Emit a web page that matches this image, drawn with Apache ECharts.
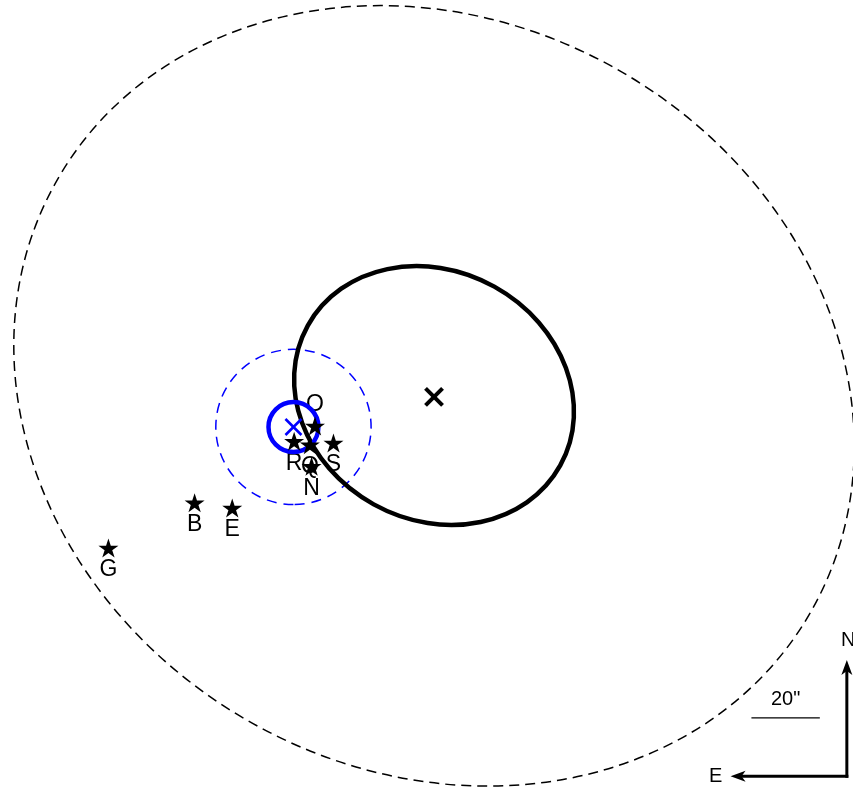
<!DOCTYPE html>
<html>
<head>
<meta charset="utf-8">
<title>Field map</title>
<script src="https://cdn.jsdelivr.net/npm/echarts@6/dist/echarts.min.js"></script>
<style>
  html, body { margin: 0; padding: 0; background: #ffffff; }
  #chart { width: 853px; height: 790px; }
</style>
</head>
<body>
<div id="chart"></div>
<script>
// Positions are offsets in arcseconds from the centroid marked with the black cross:
// east is +x (drawn to the left), north is +y.

// Field stars
const starNames = ['B', 'E', 'G', 'R', 'Q', 'O', 'S', 'N'];
const starEast  = [70.0, 59.0, 95.2, 40.9, 36.3, 34.8, 29.4, 35.8];
const starNorth = [-31.0, -32.5, -44.2, -13.0, -14.0, -8.5, -13.5, -20.3];

// Regions: centre, semi-major / semi-minor axis (arcsec), position angle (deg, N through E)
const regionEast  = [0.0, 0.0, 41.1, 41.1];
const regionNorth = [0.3, 0.4, -8.8, -8.8];
const regionMajor = [127.0, 42.2, 22.7, 7.3];
const regionMinor = [109.5, 36.4, 22.7, 7.3];
const regionPA    = [60, 61, 0, 0];

// Centroid markers
const crossEast  = [0.0, 41.1];
const crossNorth = [0.0, -8.8];

// Scale bar and orientation arrows
const scaleBarLength = 20;               // arcsec
const scaleBarStart  = [-92.8, -93.9];
const compassOrigin  = [-120.7, -111.0];
const compassLength  = 34;               // arcsec
const compassNames   = ['N', 'E'];

const FONT = "'Liberation Sans', Arial, Helvetica, sans-serif";

// Stroke styles for the four regions, in the same order as the arrays above
const regionStyles = [
  { stroke: '#000000', lineWidth: 1.5, lineDash: [10, 6], z: 2 },
  { stroke: '#000000', lineWidth: 4.5, lineDash: null,    z: 3 },
  { stroke: '#0000ff', lineWidth: 1.5, lineDash: [10, 7], z: 2 },
  { stroke: '#0000ff', lineWidth: 4.5, lineDash: null,    z: 3 }
];
const crossStyles = [
  { stroke: '#000000', lineWidth: 4,   half: 8.5 },
  { stroke: '#0000ff', lineWidth: 2.6, half: 8 }
];

function renderRegion(style) {
  return function (params, api) {
    const e = api.value(0), n = api.value(1);
    const a = api.value(2), b = api.value(3);
    const pa = api.value(4) * Math.PI / 180;
    const c = api.coord([e, n]);
    const pMaj = api.coord([e + a * Math.sin(pa), n + a * Math.cos(pa)]);
    const pMin = api.coord([e + b * Math.cos(pa), n - b * Math.sin(pa)]);
    const rx = Math.hypot(pMaj[0] - c[0], pMaj[1] - c[1]);
    const ry = Math.hypot(pMin[0] - c[0], pMin[1] - c[1]);
    const rot = -Math.atan2(pMaj[1] - c[1], pMaj[0] - c[0]);
    return {
      type: 'ellipse',
      x: c[0], y: c[1], rotation: rot,
      shape: { cx: 0, cy: 0, rx: rx, ry: ry },
      style: { fill: 'none', stroke: style.stroke, lineWidth: style.lineWidth, lineDash: style.lineDash }
    };
  };
}

function renderCross(params, api) {
  const st = crossStyles[params.dataIndex];
  const p = api.coord([api.value(0), api.value(1)]);
  const h = st.half;
  const ls = { stroke: st.stroke, lineWidth: st.lineWidth };
  return {
    type: 'group',
    children: [
      { type: 'line', shape: { x1: p[0] - h, y1: p[1] - h, x2: p[0] + h, y2: p[1] + h }, style: ls },
      { type: 'line', shape: { x1: p[0] - h, y1: p[1] + h, x2: p[0] + h, y2: p[1] - h }, style: ls }
    ]
  };
}

function renderStarLabel(params, api) {
  const name = starNames[params.dataIndex];
  const p = api.coord([api.value(0), api.value(1)]);
  const dy = name === 'O' ? -21 : 22;
  return {
    type: 'text',
    x: p[0], y: p[1] + dy,
    style: { text: name, fontSize: 23, fontFamily: FONT, fill: '#000', align: 'center', verticalAlign: 'middle' }
  };
}

function renderCompass(params, api) {
  const p0 = api.coord([api.value(0), api.value(1)]);
  const p1 = api.coord([api.value(2), api.value(3)]);
  const len = Math.hypot(p1[0] - p0[0], p1[1] - p0[1]);
  const ux = (p1[0] - p0[0]) / len, uy = (p1[1] - p0[1]) / len;
  const vx = -uy, vy = ux;
  const hl = 15, hw = 5.5, notch = 4;
  const back = [p1[0] - ux * hl, p1[1] - uy * hl];
  const inner = [p1[0] - ux * (hl - notch), p1[1] - uy * (hl - notch)];
  const vertical = Math.abs(uy) > 0.5;
  const gap = vertical ? 20 : 15;
  return {
    type: 'group',
    children: [
      { type: 'line', shape: { x1: p0[0], y1: p0[1], x2: inner[0], y2: inner[1] },
        style: { stroke: '#000', lineWidth: 3, lineCap: 'square' } },
      { type: 'polygon',
        shape: { points: [p1, [back[0] + vx * hw, back[1] + vy * hw], inner, [back[0] - vx * hw, back[1] - vy * hw]] },
        style: { fill: '#000' } },
      { type: 'text', x: p1[0] + ux * gap + (vertical ? 1.5 : 0), y: p1[1] + uy * gap,
        style: { text: compassNames[params.dataIndex], fontSize: 20, fontFamily: FONT, fill: '#000',
                 align: 'center', verticalAlign: 'middle' } }
    ]
  };
}

function renderScaleBar(params, api) {
  const p0 = api.coord([api.value(0), api.value(1)]);
  const p1 = api.coord([api.value(2), api.value(3)]);
  return {
    type: 'group',
    children: [
      { type: 'line', shape: { x1: p0[0], y1: p0[1], x2: p1[0], y2: p1[1] },
        style: { stroke: '#000', lineWidth: 1.3 } },
      { type: 'text', x: (p0[0] + p1[0]) / 2, y: p0[1] - 18,
        style: { text: scaleBarLength + '"', fontSize: 20, fontFamily: FONT, fill: '#000',
                 align: 'center', verticalAlign: 'middle' } }
    ]
  };
}

const starPath = 'path://M50,0L61.23,34.55L97.55,34.55L68.17,55.9L79.39,90.45L50,69.1L20.61,90.45L31.83,55.9L2.45,34.55L38.77,34.55Z';
const starData = starEast.map((e, i) => [e, starNorth[i]]);

const series = [];

// star labels sit underneath everything else
series.push({
  type: 'custom', name: 'star labels', z: 1,
  renderItem: renderStarLabel, data: starData, silent: true
});

regionStyles.forEach((st, i) => {
  series.push({
    type: 'custom', name: 'region ' + i, z: st.z,
    renderItem: renderRegion(st),
    data: [[regionEast[i], regionNorth[i], regionMajor[i], regionMinor[i], regionPA[i]]],
    silent: true
  });
});

series.push({
  type: 'custom', name: 'centroids', z: 4,
  renderItem: renderCross,
  data: crossEast.map((e, i) => [e, crossNorth[i]]),
  silent: true
});

series.push({
  type: 'scatter', name: 'stars', z: 5,
  symbol: starPath, symbolSize: [20, 19],
  itemStyle: { color: '#000000', opacity: 1 },
  data: starData, silent: true
});

series.push({
  type: 'custom', name: 'compass', z: 6,
  renderItem: renderCompass,
  data: [
    [compassOrigin[0], compassOrigin[1], compassOrigin[0], compassOrigin[1] + compassLength],
    [compassOrigin[0], compassOrigin[1], compassOrigin[0] + compassLength, compassOrigin[1]]
  ],
  silent: true
});

series.push({
  type: 'custom', name: 'scale bar', z: 6,
  renderItem: renderScaleBar,
  data: [[scaleBarStart[0], scaleBarStart[1], scaleBarStart[0] - scaleBarLength, scaleBarStart[1]]],
  silent: true
});

const chart = echarts.init(document.getElementById('chart'), null, { renderer: 'canvas' });
chart.setOption({
  animation: false,
  backgroundColor: '#ffffff',
  grid: { left: 0, right: 0, top: 0, bottom: 0 },
  xAxis: { type: 'value', min: -122.5, max: 126.9, inverse: true, show: false },
  yAxis: { type: 'value', min: -115.0, max: 116.1, show: false },
  series: series
});
</script>
</body>
</html>
